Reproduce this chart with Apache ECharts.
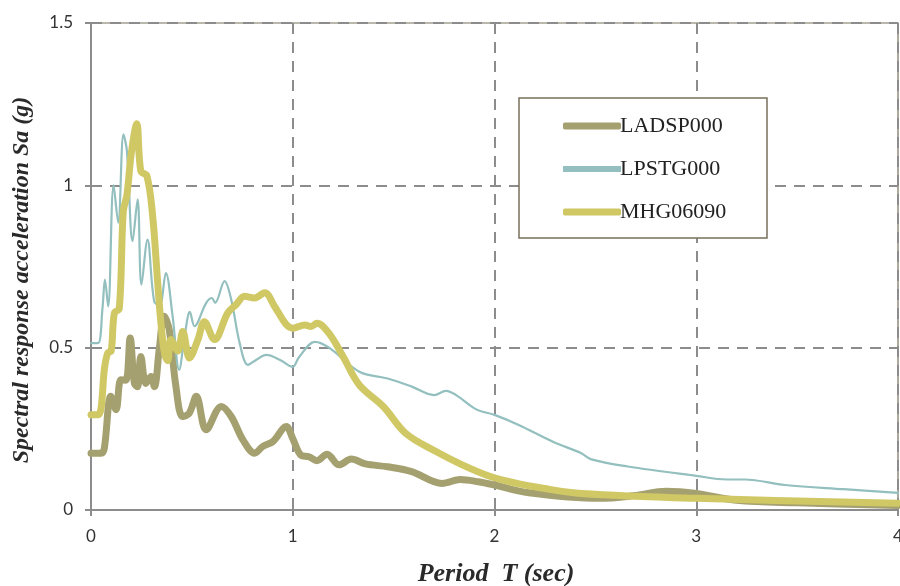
<!DOCTYPE html>
<html>
<head>
<meta charset="utf-8">
<title>Spectral response acceleration</title>
<script src="https://cdn.jsdelivr.net/npm/echarts@6/dist/echarts.min.js"></script>
<style>
  html, body { margin: 0; padding: 0; background: #fff; }
  #chart { width: 900px; height: 586px; }
</style>
</head>
<body>
<div id="chart"></div>
<script>
// Response spectra (5% damping) for three ground-motion records
const seriesNames = ['LADSP000', 'LPSTG000', 'MHG06090'];

// LADSP000: period (s) and Sa (g)
const ladspT = [0, 0.05, 0.066, 0.098, 0.124, 0.148, 0.173, 0.194, 0.215, 0.23, 0.247, 0.272, 0.297, 0.314,
  0.339, 0.363, 0.388, 0.421, 0.454, 0.487, 0.522, 0.571, 0.646, 0.695, 0.753, 0.811, 0.852, 0.902, 0.968,
  1.0, 1.04, 1.08, 1.12, 1.17, 1.23, 1.29, 1.36, 1.47, 1.59, 1.74, 1.83, 1.92, 2.0, 2.17, 2.52, 2.7, 2.85,
  3.0, 3.2, 3.5, 4.0];
const ladspSa = [0.175, 0.175, 0.19, 0.35, 0.309, 0.401, 0.40, 0.53, 0.39, 0.38, 0.473, 0.39, 0.411, 0.38,
  0.5, 0.597, 0.555, 0.38, 0.288, 0.298, 0.35, 0.247, 0.319, 0.288, 0.216, 0.175, 0.196, 0.211, 0.257,
  0.22, 0.169, 0.164, 0.152, 0.172, 0.139, 0.157, 0.142, 0.133, 0.118, 0.082, 0.094, 0.087, 0.077, 0.053,
  0.036, 0.045, 0.058, 0.051, 0.03, 0.022, 0.014];

// LPSTG000: period (s) and Sa (g)
const lpstgT = [0, 0.035, 0.057, 0.069, 0.085, 0.112, 0.135, 0.161, 0.178, 0.206, 0.231, 0.25, 0.28, 0.313,
  0.34, 0.371, 0.404, 0.437, 0.465, 0.49, 0.513, 0.571, 0.6, 0.615, 0.662, 0.695, 0.737, 0.778, 0.82, 0.869,
  0.935, 1.0, 1.03, 1.11, 1.18, 1.33, 1.47, 1.59, 1.70, 1.76, 1.81, 1.91, 2.0, 2.12, 2.29, 2.43, 2.48, 2.66,
  3.0, 3.15, 3.24, 3.44, 3.73, 4.0];
const lpstgSa = [0.514, 0.514, 0.622, 0.71, 0.627, 1.0, 0.885, 1.157, 1.106, 0.828, 0.957, 0.694, 0.833, 0.643,
  0.63, 0.73, 0.6, 0.432, 0.54, 0.61, 0.566, 0.638, 0.653, 0.638, 0.705, 0.648, 0.514, 0.447, 0.463, 0.478,
  0.463, 0.441, 0.47, 0.518, 0.5, 0.426, 0.405, 0.38, 0.354, 0.367, 0.354, 0.31, 0.293, 0.262, 0.21, 0.175, 0.156,
  0.134, 0.105, 0.094, 0.094, 0.077, 0.064, 0.053];

// MHG06090: period (s) and Sa (g)
const mhgT = [0, 0.035, 0.05, 0.066, 0.083, 0.1, 0.116, 0.14, 0.16, 0.178, 0.2, 0.227, 0.247, 0.277, 0.305,
  0.33, 0.346, 0.365, 0.38, 0.396, 0.43, 0.455, 0.488, 0.53, 0.562, 0.612, 0.678, 0.72, 0.761, 0.81, 0.861,
  0.91, 0.968, 1.0, 1.06, 1.09, 1.12, 1.18, 1.25, 1.33, 1.45, 1.56, 1.71, 1.84, 1.98, 2.11, 2.24, 2.43, 3.0, 4.0];
const mhgSa = [0.293, 0.293, 0.314, 0.432, 0.484, 0.49, 0.607, 0.62, 0.92, 0.97, 1.1, 1.19, 1.044, 1.029, 0.91,
  0.705, 0.58, 0.48, 0.46, 0.525, 0.49, 0.55, 0.468, 0.525, 0.58, 0.525, 0.607, 0.633, 0.658, 0.653, 0.669,
  0.627, 0.571, 0.56, 0.57, 0.565, 0.575, 0.544, 0.472, 0.385, 0.318, 0.236, 0.18, 0.139, 0.103, 0.082, 0.067,
  0.051, 0.036, 0.021];

const xTicks = [0, 1, 2, 3, 4];
const yTicks = [0, 0.5, 1, 1.5];

const zip = (xs, ys) => xs.map((x, i) => [x, ys[i]]);
const colors = ['#a5a070', '#93bfbf', '#d0c865'];
const widths = [7, 2.2, 7];
const seriesData = [zip(ladspT, ladspSa), zip(lpstgT, lpstgSa), zip(mhgT, mhgSa)];

const chart = echarts.init(document.getElementById('chart'), null, { renderer: 'canvas' });

const axisLabelFont = { fontFamily: 'Lato', fontSize: 17, color: '#333' };
const titleStyle = { fontFamily: 'Liberation Serif', fontWeight: 'bold', fontStyle: 'italic', fill: '#2a2a2a' };
const frameColor = '#77705a';

chart.setOption({
  animation: false,
  grid: {
    left: 91, right: 2, top: 23, bottom: 76,
    outerBoundsMode: 'none', containLabel: false,
    show: true, borderColor: frameColor, borderWidth: 1.2, backgroundColor: 'transparent'
  },
  xAxis: {
    type: 'value', min: xTicks[0], max: xTicks[xTicks.length - 1], interval: 1,
    axisLine: { show: true, lineStyle: { color: '#8c8c8c', width: 2 } },
    axisTick: { show: true, length: 6, lineStyle: { color: '#8c8c8c', width: 2 } },
    axisLabel: Object.assign({ margin: 18, formatter: v => String(v) }, axisLabelFont),
    splitLine: { show: true, lineStyle: { color: '#8c8c8c', width: 2, type: [11, 8] } }
  },
  yAxis: {
    type: 'value', min: yTicks[0], max: yTicks[yTicks.length - 1], interval: 0.5,
    axisLine: { show: true, lineStyle: { color: '#8c8c8c', width: 2 } },
    axisTick: { show: true, length: 6, lineStyle: { color: '#8c8c8c', width: 2 } },
    axisLabel: Object.assign({ margin: 18, formatter: v => String(v) }, axisLabelFont),
    splitLine: { show: true, lineStyle: { color: '#8c8c8c', width: 2, type: [11, 8] } }
  },
  graphic: [
    // axis titles
    { type: 'text', x: 496, y: 574,
      style: Object.assign({ text: 'Period  T (sec)', textAlign: 'center', textVerticalAlign: 'middle', fontSize: 26 }, titleStyle), z: 10 },
    { type: 'text', x: 22, y: 280, rotation: Math.PI / 2,
      style: Object.assign({ text: 'Spectral response acceleration Sa (g)', textAlign: 'center', textVerticalAlign: 'middle', fontSize: 24 }, titleStyle), z: 10 },
    // legend frame
    { type: 'rect', shape: { x: 519, y: 98, width: 248, height: 140 },
      style: { fill: '#fff', stroke: frameColor, lineWidth: 1.5 }, z: 20 }
  ],
  legend: {
    show: true, orient: 'vertical', left: 558, top: 110, z: 30,
    itemGap: 21, itemWidth: 58, itemHeight: 7,
    backgroundColor: 'transparent', borderWidth: 0,
    textStyle: { fontFamily: 'Liberation Serif', fontSize: 22, color: '#222', padding: [0, 0, 0, -6] },
    data: seriesNames.map((n, i) => ({ name: n, itemStyle: { color: colors[i] }, icon: i === 1 ? 'path://M0,0H10V1H0Z' : 'roundRect' }))
  },
  series: seriesNames.map((name, i) => ({
    name, type: 'line', data: seriesData[i], smooth: 0.35, showSymbol: false, symbol: 'none',
    lineStyle: { color: colors[i], width: widths[i], cap: 'round', join: 'round' },
    itemStyle: { color: colors[i] }, z: 2 + i
  }))
});
</script>
</body>
</html>
